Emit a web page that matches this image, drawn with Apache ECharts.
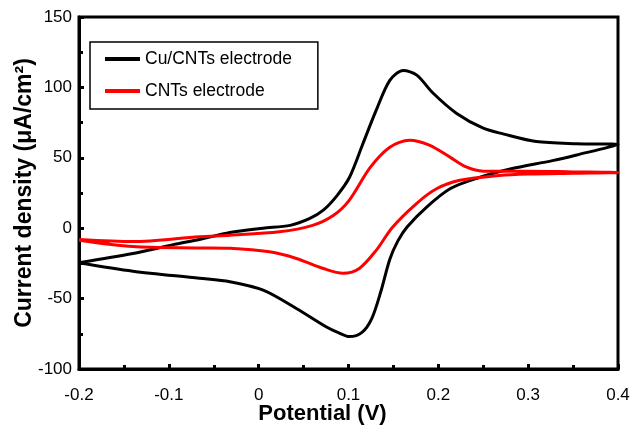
<!DOCTYPE html>
<html>
<head>
<meta charset="utf-8">
<script src="https://cdn.jsdelivr.net/npm/echarts@6/dist/echarts.min.js"></script>
<style>
  html, body { margin: 0; padding: 0; background: #fff; }
  #chart { width: 630px; height: 426px; }
</style>
</head>
<body>
<div id="chart"></div>
<script>
// Cu/CNTs electrode, one full CV loop (forward then reverse scan)
const cuCntsPotential = [
  -0.2, -0.14, -0.094, -0.066, -0.032, 0.005, 0.035, 0.057, 0.072, 0.087,
  0.101, 0.116, 0.131, 0.146, 0.161, 0.176, 0.194, 0.22, 0.25, 0.272,
  0.309, 0.354, 0.4,
  0.354, 0.327, 0.28, 0.243, 0.213, 0.187, 0.165, 0.155, 0.146, 0.136,
  0.126, 0.115, 0.101, 0.088, 0.075, 0.042, 0.005, -0.032, -0.066, -0.14, -0.2
];
const cuCntsCurrent = [
  -24.5, -18, -11.5, -8, -3, 0, 2, 7, 12.8, 23,
  36, 60, 84, 105, 112, 108.7, 96, 81.7, 71, 67,
  61.5, 60, 59.5,
  52, 48, 42, 35.5, 28, 15, 0.7, -9, -22, -45,
  -64, -74, -77, -74, -70, -57, -44, -38, -35.5, -30.5, -24.5
];

// CNTs electrode, one full CV loop
const cntsPotential = [
  -0.2, -0.14, -0.066, -0.032, 0.023, 0.06, 0.083, 0.101, 0.124, 0.146,
  0.168, 0.19, 0.213, 0.231, 0.25, 0.3, 0.35, 0.4,
  0.35, 0.3, 0.268, 0.224, 0.198, 0.176, 0.149, 0.131, 0.112, 0.094,
  0.072, 0.042, 0.012, -0.032, -0.066, -0.14, -0.2
];
const cntsCurrent = [
  -8, -9.5, -6, -5, -2.6, 2, 9, 20, 43, 57.5,
  62.5, 59, 50.5, 43.5, 40.5, 40.5, 40, 39.5,
  39, 38.5, 37.5, 34, 28, 17.7, 0.7, -15.6, -28.6, -32,
  -28.6, -21.5, -16.8, -14.3, -14, -13, -8.5
];

const seriesNames = ['Cu/CNTs electrode', 'CNTs electrode'];
const xTicks = [-0.2, 0.4, 0.1];
const yTicks = [-100, 150, 50];

function pairs(xs, ys) {
  return xs.map(function (x, i) { return [x, ys[i]]; });
}

const chart = echarts.init(document.getElementById('chart'), null, { renderer: 'canvas' });

const axisFont = { fontFamily: 'Liberation Sans, Arial, sans-serif', color: '#000' };

chart.setOption({
  animation: false,
  backgroundColor: '#fff',
  grid: {
    left: 79, right: 12, top: 17, bottom: 57,
    outerBoundsMode: 'none', containLabel: false,
    show: true, borderColor: '#000', borderWidth: 3
  },
  legend: {
    left: 90, top: 42, orient: 'vertical',
    data: seriesNames,
    icon: 'rect', itemWidth: 35, itemHeight: 4, itemGap: 14,
    borderColor: '#000', borderWidth: 1.5,
    padding: [8, 26, 9, 15],
    textStyle: Object.assign({ fontSize: 17.5 }, axisFont)
  },
  xAxis: {
    type: 'value',
    min: xTicks[0], max: xTicks[1], interval: xTicks[2],
    name: 'Potential (V)', nameLocation: 'middle', nameGap: 34, nameMoveOverlap: false,
    // title sits a little left of the plot centre in the original
    nameTextStyle: Object.assign({ fontSize: 22, fontWeight: 'bold', padding: [0, 52, 0, 0] }, axisFont),
    axisLine: { onZero: false, lineStyle: { color: '#000', width: 3 } },
    axisTick: { inside: true, length: 5, lineStyle: { color: '#000', width: 3 } },
    minorTick: { show: true, splitNumber: 2, length: 4, lineStyle: { color: '#000', width: 3 } },
    splitLine: { show: false },
    axisLabel: Object.assign({ fontSize: 17, margin: 18, formatter: function (v) { return String(Math.round(v * 10) / 10); } }, axisFont)
  },
  yAxis: {
    type: 'value',
    min: yTicks[0], max: yTicks[1], interval: yTicks[2],
    name: 'Current density (\u03bcA/cm\u00b2)', nameLocation: 'middle', nameGap: 43, nameMoveOverlap: false,
    nameTextStyle: Object.assign({ fontSize: 23, fontWeight: 'bold' }, axisFont),
    axisLine: { onZero: false, lineStyle: { color: '#000', width: 3 } },
    axisTick: { inside: true, length: 5, lineStyle: { color: '#000', width: 3 } },
    minorTick: { show: true, splitNumber: 2, length: 4, lineStyle: { color: '#000', width: 3 } },
    splitLine: { show: false },
    axisLabel: Object.assign({ fontSize: 17, margin: 7 }, axisFont)
  },
  series: [
    {
      name: seriesNames[0], type: 'line', showSymbol: false, smooth: 0.3,
      color: '#000', lineStyle: { width: 3, color: '#000' },
      data: pairs(cuCntsPotential, cuCntsCurrent)
    },
    {
      name: seriesNames[1], type: 'line', showSymbol: false, smooth: 0.3,
      color: '#f00', lineStyle: { width: 3, color: '#f00' },
      data: pairs(cntsPotential, cntsCurrent)
    }
  ]
});
</script>
</body>
</html>
